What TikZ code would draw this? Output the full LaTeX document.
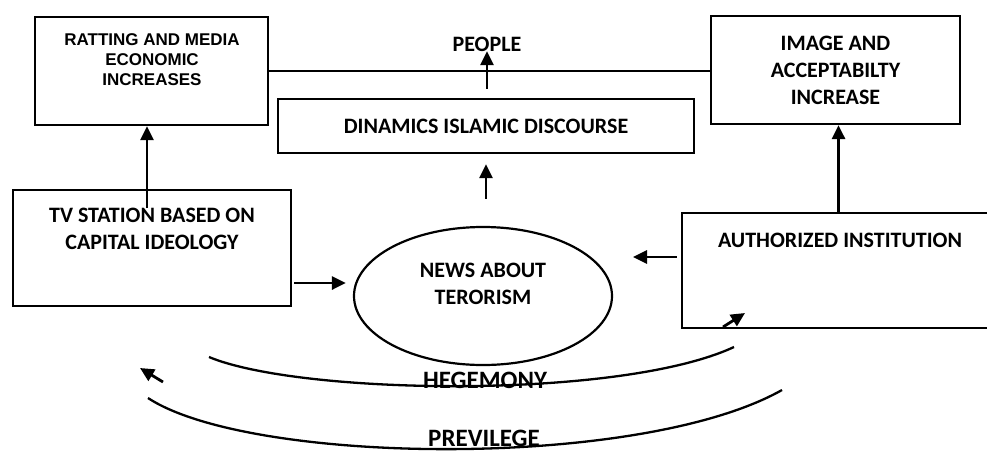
\documentclass[tikz,border=0pt]{standalone}
\usepackage{fontspec}
\setmainfont{Carlito}
\newfontfamily\arialfont{Liberation Sans}
\usetikzlibrary{positioning}
\usetikzlibrary{shapes.geometric}
\usetikzlibrary{arrows.meta}
\usetikzlibrary{calc}
\tikzset{box/.style={draw, line width=2.2pt, inner sep=0pt}}
\tikzset{txt/.style={font=\fontsize{22}{27}\selectfont\bfseries, align=center, inner sep=0pt}}
\tikzset{arr/.style={line width=2.8pt, -{Triangle[length=14pt,width=13pt]}}}
\tikzset{arc/.style={line width=2.3pt}}

\begin{document}
\begin{tikzpicture}[x=1pt,y=-1pt]
  \useasboundingbox (0,0) rectangle (987,453);
  \node[box, minimum width=233pt, minimum height=108pt] (rating) at (151.5,71) {};
  \node[txt, font=\arialfont\fontsize{17}{20}\selectfont\bfseries] (ratingtext) at (152,60) {RATTING AND MEDIA\\ECONOMIC\\INCREASES};
  \node[txt] (people) at (487,44) {PEOPLE};
  \node[box, txt, minimum width=416pt, minimum height=54pt] (dinamics) at (486,126) {DINAMICS ISLAMIC DISCOURSE};
  \node[box, txt, minimum width=249pt, minimum height=108pt] (image) at (835.5,70) {IMAGE AND\\ACCEPTABILTY\\INCREASE};
  \node[box, minimum width=278pt, minimum height=116pt] (tv) at (152,248) {};
  \node[txt] (tvtext) at (152,229) {TV STATION BASED ON\\CAPITAL IDEOLOGY};
  \node[box, ellipse, minimum width=258pt, minimum height=138pt] (news) at (483,296) {};
  \node[txt] (newstext) at (483,284) {NEWS ABOUT\\TERORISM};
  \node[box, minimum width=313pt, minimum height=115pt] (auth) at (838.5,270.5) {};
  \node[txt] (authtext) at (840,240) {AUTHORIZED INSTITUTION};
  \node[txt, font=\fontsize{25}{30}\selectfont\bfseries] (hegemony) at (485,380) {HEGEMONY};
  \node[txt, font=\fontsize{25}{30}\selectfont\bfseries] (previlege) at (484,438) {PREVILEGE};

  \coordinate (tvup) at (147,208);
  \coordinate (newsright) at (633,257);
  \coordinate (ia) at (723,327);
  \coordinate (ib) at (745,313);
  \coordinate (la) at (163,382);
  \coordinate (lb) at (140,368);

  \draw[line width=2.2pt] (rating.east) -- (rating.east -| image.west);
  \draw[arr, shorten <=9pt] (people.base |- dinamics.north) -- (people.base);
  \draw[arr] (tvup) -- (tvup |- rating.south);
  \draw[arr, shorten <=2pt, shorten >=7pt] (tv.east |- 0,283) -- (news.west |- 0,283);
  \draw[arr, shorten <=4pt] (auth.west |- newsright) -- (newsright);
  \draw[arr, shorten <=27pt, shorten >=10pt] (dinamics.south |- news.north) -- (dinamics.south);
  \draw[arr] (auth.north) -- (auth.north |- image.south);
  \draw[arr] (ia) -- (ib);
  \draw[arr] (la) -- (lb);

  \draw[arc] (209,357) .. controls (300,395) and (620,400) .. (734,347);
  \draw[arc] (148,398) .. controls (250,465) and (640,470) .. (782,390);
\end{tikzpicture}
\end{document}
